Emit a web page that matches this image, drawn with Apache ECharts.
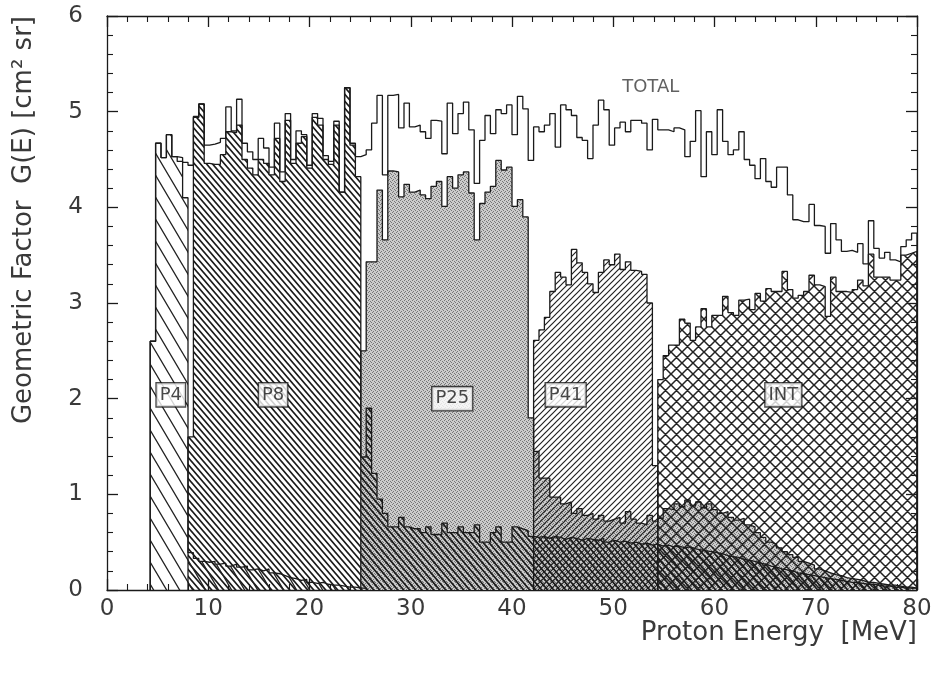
<!DOCTYPE html>
<html><head><meta charset="utf-8">
<script src="https://cdn.jsdelivr.net/npm/echarts@6/dist/echarts.min.js"></script>
<style>html,body{margin:0;padding:0;background:#fff}#c{width:936px;height:681px}</style>
</head><body><div id="c"></div>
<script>
// ---------------- data ----------------
const binWidth = 80 / 150;            // MeV per histogram bin
const totalStart = 8;                 // first bin index of each histogram
const totalValues = [
  2.6, 4.67, 4.52, 4.76, 4.53, 4.52, 4.47, 4.44, 4.95, 5.08,
  4.65, 4.66, 4.68, 4.72, 5.05, 4.8, 5.13, 4.67, 4.58, 4.5,
  4.72, 4.62, 4.42, 4.88, 4.37, 4.98, 4.5, 4.8, 4.76, 4.44,
  4.98, 4.93, 4.54, 4.48, 4.9, 4.16, 5.25, 4.67, 4.53, 4.55,
  4.6, 4.88, 5.17, 4.34, 5.17, 5.18, 4.83, 5.09, 4.84, 4.86,
  4.79, 4.72, 4.91, 4.9, 4.56, 5.09, 4.77, 4.98, 5.1, 4.81,
  4.25, 4.7, 4.96, 4.77, 5.02, 4.98, 5.07, 4.76, 5.16, 5.03,
  4.49, 4.84, 4.79, 4.86, 4.98, 4.63, 5.07, 5.02, 4.96, 4.73,
  4.7, 4.51, 4.86, 5.12, 5.02, 4.65, 4.83, 4.89, 4.79, 4.91,
  4.91, 4.88, 4.6, 4.92, 4.81, 4.81, 4.79, 4.83, 4.81, 4.53,
  4.69, 5.01, 4.32, 4.79, 4.55, 5.02, 4.69, 4.55, 4.6, 4.79,
  4.5, 4.44, 4.3, 4.51, 4.27, 4.21, 4.42, 4.42, 4.13, 3.87,
  3.85, 3.85, 4.03, 3.81, 3.8, 3.52, 3.83, 3.66, 3.54, 3.55,
  3.53, 3.62, 3.41, 3.86, 3.57, 3.47, 3.53, 3.45, 3.43, 3.59,
  3.66, 3.73
];
const p4Start = 8;
const p4Values = [
  2.6, 4.67, 4.52, 4.76, 4.53, 4.48, 4.1, 0.39, 0.33, 0.3,
  0.29, 0.3, 0.27, 0.28, 0.25, 0.27, 0.24, 0.25, 0.21, 0.22,
  0.2, 0.22, 0.18, 0.17, 0.15, 0.13, 0.12, 0.1, 0.11, 0.08,
  0.07, 0.08, 0.06, 0.05, 0.05, 0.04, 0.03, 0.03, 0.02, 0.02
];
const p8Start = 15;
const p8Values = [
  1.6, 4.94, 5.08, 4.46, 4.45, 4.45, 4.55, 4.79, 4.78, 4.86,
  4.5, 4.41, 4.34, 4.5, 4.46, 4.34, 4.72, 4.27, 4.91, 4.46,
  4.67, 4.74, 4.41, 4.94, 4.86, 4.5, 4.45, 4.86, 4.16, 5.25,
  4.65, 4.32, 1.39, 1.9, 1.22, 0.95, 0.8, 0.66, 0.66, 0.76,
  0.66, 0.64, 0.64, 0.6, 0.66, 0.58, 0.58, 0.7, 0.6, 0.6,
  0.66, 0.6, 0.6, 0.68, 0.5, 0.5, 0.6, 0.66, 0.5, 0.5,
  0.66, 0.64, 0.62, 0.56, 0.55, 0.56, 0.54, 0.56, 0.55, 0.53,
  0.55, 0.54, 0.52, 0.54, 0.53, 0.52, 0.54, 0.5, 0.52, 0.5,
  0.51, 0.49, 0.5, 0.48, 0.49, 0.47, 0.48, 0.46, 0.47, 0.45,
  0.46, 0.44, 0.45, 0.43, 0.42, 0.41, 0.4, 0.39, 0.38, 0.36,
  0.35, 0.34, 0.32, 0.31, 0.3, 0.28, 0.27, 0.25, 0.24, 0.22,
  0.21, 0.2, 0.18, 0.17, 0.16, 0.15, 0.14, 0.13, 0.12, 0.11,
  0.1, 0.09, 0.08, 0.08, 0.07, 0.06, 0.06, 0.05, 0.04, 0.04,
  0.03, 0.03, 0.02, 0.02, 0.02
];
const p25Start = 47;
const p25Values = [
  2.5, 3.43, 3.43, 4.18, 3.66, 4.38, 4.37, 4.11, 4.24, 4.16,
  4.18, 4.13, 4.09, 4.22, 4.27, 4.01, 4.32, 4.2, 4.34, 4.37,
  4.15, 3.66, 4.04, 4.16, 4.22, 4.49, 4.39, 4.42, 4.01, 4.08,
  3.9, 1.8, 1.45, 1.17, 1.17, 0.97, 0.97, 0.9, 0.92, 0.8,
  0.85, 0.78, 0.8, 0.74, 0.78, 0.72, 0.74, 0.76, 0.7, 0.82,
  0.74, 0.7, 0.68, 0.78, 0.72, 0.75, 0.85, 0.84, 0.9, 0.87,
  0.94, 0.88, 0.92, 0.86, 0.9, 0.84, 0.8, 0.82, 0.76, 0.73,
  0.75, 0.68, 0.66, 0.6, 0.55, 0.5, 0.48, 0.44, 0.4, 0.37,
  0.34, 0.3, 0.28, 0.26, 0.22, 0.2, 0.18, 0.16, 0.15, 0.13,
  0.12, 0.11, 0.1, 0.08, 0.08, 0.07, 0.06, 0.05, 0.05, 0.04,
  0.03, 0.03, 0.02
];
const p41Start = 79;
const p41Values = [
  2.61, 2.72, 2.85, 3.12, 3.32, 3.27, 3.19, 3.56, 3.42, 3.32,
  3.2, 3.11, 3.32, 3.45, 3.4, 3.51, 3.35, 3.43, 3.34, 3.33,
  3.3, 3.0, 1.3
];
const intStart = 102;
const intValues = [
  2.2, 2.45, 2.56, 2.56, 2.83, 2.79, 2.61, 2.75, 2.94, 2.75,
  2.87, 2.87, 3.07, 2.9, 2.87, 3.03, 3.04, 2.93, 3.1, 3.02,
  3.15, 3.12, 3.12, 3.33, 3.14, 3.05, 3.08, 3.12, 3.29, 3.19,
  3.17, 2.86, 3.27, 3.12, 3.12, 3.11, 3.14, 3.24, 3.18, 3.51,
  3.27, 3.27, 3.27, 3.24, 3.24, 3.5, 3.52, 3.54
];
const labelNames = ['P4', 'P8', 'P25', 'P41', 'INT'];
const labelEnergy = [6.3, 16.4, 34.1, 45.3, 66.8];
const labelG = [2.04, 2.04, 2.0, 2.04, 2.04];
const xTitle = 'Proton Energy  [MeV]';
const yTitle = 'Geometric Factor  G(E) [cm\u00B2 sr]';

// ---------------- helpers ----------------
function stepData(start, vals) {
  const d = [[start * binWidth, 0]];
  vals.forEach((v, i) => d.push([(start + i) * binWidth, v]));
  d.push([(start + vals.length) * binWidth, 0]);
  return d;
}
function hatch(w, h, dirs, lw, color) {
  const c = document.createElement('canvas');
  c.width = w; c.height = h;
  const g = c.getContext('2d');
  g.strokeStyle = color; g.lineWidth = lw;
  g.beginPath();
  for (const dir of dirs) {
    for (const off of [-w, 0, w]) {
      if (dir === '\\') { g.moveTo(off - w, -h); g.lineTo(off + 2 * w, 2 * h); }
      else { g.moveTo(off - w, 2 * h); g.lineTo(off + 2 * w, -h); }
    }
  }
  g.stroke();
  return c;
}
function stipple() {
  const c = document.createElement('canvas');
  c.width = 4; c.height = 4;
  const g = c.getContext('2d');
  g.fillStyle = '#cbcbcb'; g.fillRect(0, 0, 4, 4);
  g.fillStyle = '#767676';
  [[0,0],[2,1],[1,3],[3,2]].forEach(p => g.fillRect(p[0], p[1], 1, 1));
  return c;
}
const FONT = 'DejaVu Sans';
const ink = '#1a1a1a';
const textInk = '#3a3a3a';
function histSeries(name, start, vals, img) {
  return {
    name, type: 'line', step: 'end', symbol: 'none', silent: true,
    data: stepData(start, vals),
    lineStyle: { color: ink, width: 1.3 },
    areaStyle: img ? { color: { image: img, repeat: 'repeat' }, opacity: 1 } : undefined
  };
}
const axisLineStyle = { color: ink, width: 1.3 };
function xAx(pos, showLabel) {
  return {
    type: 'value', min: 0, max: 80, interval: 10, position: pos,
    axisLine: { show: true, onZero: false, lineStyle: axisLineStyle },
    axisTick: { show: true, inside: true, length: 11, lineStyle: axisLineStyle },
    minorTick: { show: true, splitNumber: 5, length: 6, lineStyle: { color: ink, width: 1.1 } },
    axisLabel: { show: showLabel, fontSize: 23, color: textInk, margin: 8, fontFamily: FONT },
    splitLine: { show: false }, minorSplitLine: { show: false }
  };
}
function yAx(pos, showLabel) {
  return {
    type: 'value', min: 0, max: 6, interval: 1, position: pos,
    axisLine: { show: true, onZero: false, lineStyle: axisLineStyle },
    axisTick: { show: true, inside: true, length: 11, lineStyle: axisLineStyle },
    minorTick: { show: true, splitNumber: 5, length: 6, lineStyle: { color: ink, width: 1.1 } },
    axisLabel: { show: showLabel, fontSize: 23, color: textInk, margin: 24, fontFamily: FONT },
    splitLine: { show: false }, minorSplitLine: { show: false }
  };
}

const chart = echarts.init(document.getElementById('c'), null, { renderer: 'canvas' });
chart.setOption({
  animation: false,
  backgroundColor: '#fff',
  grid: { left: 107, right: 19, top: 16, bottom: 91, containLabel: false },
  xAxis: [xAx('bottom', true), xAx('top', false)],
  yAxis: [yAx('left', true), yAx('right', false)],
  graphic: [
    {
      type: 'text', right: 19, top: 620,
      style: { text: xTitle, font: '26px "DejaVu Sans"', fill: textInk }
    },
    {
      type: 'text', x: 24, y: 16, rotation: Math.PI / 2,
      style: { text: yTitle, font: '26px "DejaVu Sans"', fill: textInk, textAlign: 'right', textVerticalAlign: 'middle' }
    }
  ],
  series: [
    histSeries('P25', p25Start, p25Values, stipple()),
    histSeries('INT', intStart, intValues, hatch(11, 11, ['\\', '/'], 1.5, '#222')),
    histSeries('P41', p41Start, p41Values, hatch(6, 6, ['/'], 1.2, '#222')),
    histSeries('P8', p8Start, p8Values, hatch(6, 7, ['\\'], 1.7, '#1a1a1a')),
    histSeries('P4', p4Start, p4Values, hatch(13, 22, ['\\'], 1.3, '#222')),
    histSeries('TOTAL', totalStart, totalValues, null),
    {
      type: 'scatter', symbolSize: 0, silent: true, z: 10,
      data: labelNames.map((n, i) => [labelEnergy[i], labelG[i], n]),
      label: {
        show: true, position: 'inside', formatter: p => p.data[2],
        fontSize: 18, fontFamily: FONT, color: '#1a1a1a',
        backgroundColor: '#fff', borderColor: ink, borderWidth: 1.3, padding: [3, 3, 2, 3]
      }
    },
    {
      type: 'scatter', symbolSize: 0, silent: true, z: 10,
      data: [[53.7, 5.25, 'TOTAL']],
      label: { show: true, position: 'inside', formatter: p => p.data[2], fontSize: 18, fontFamily: FONT, color: textInk }
    }
  ]
});
</script></body></html>
